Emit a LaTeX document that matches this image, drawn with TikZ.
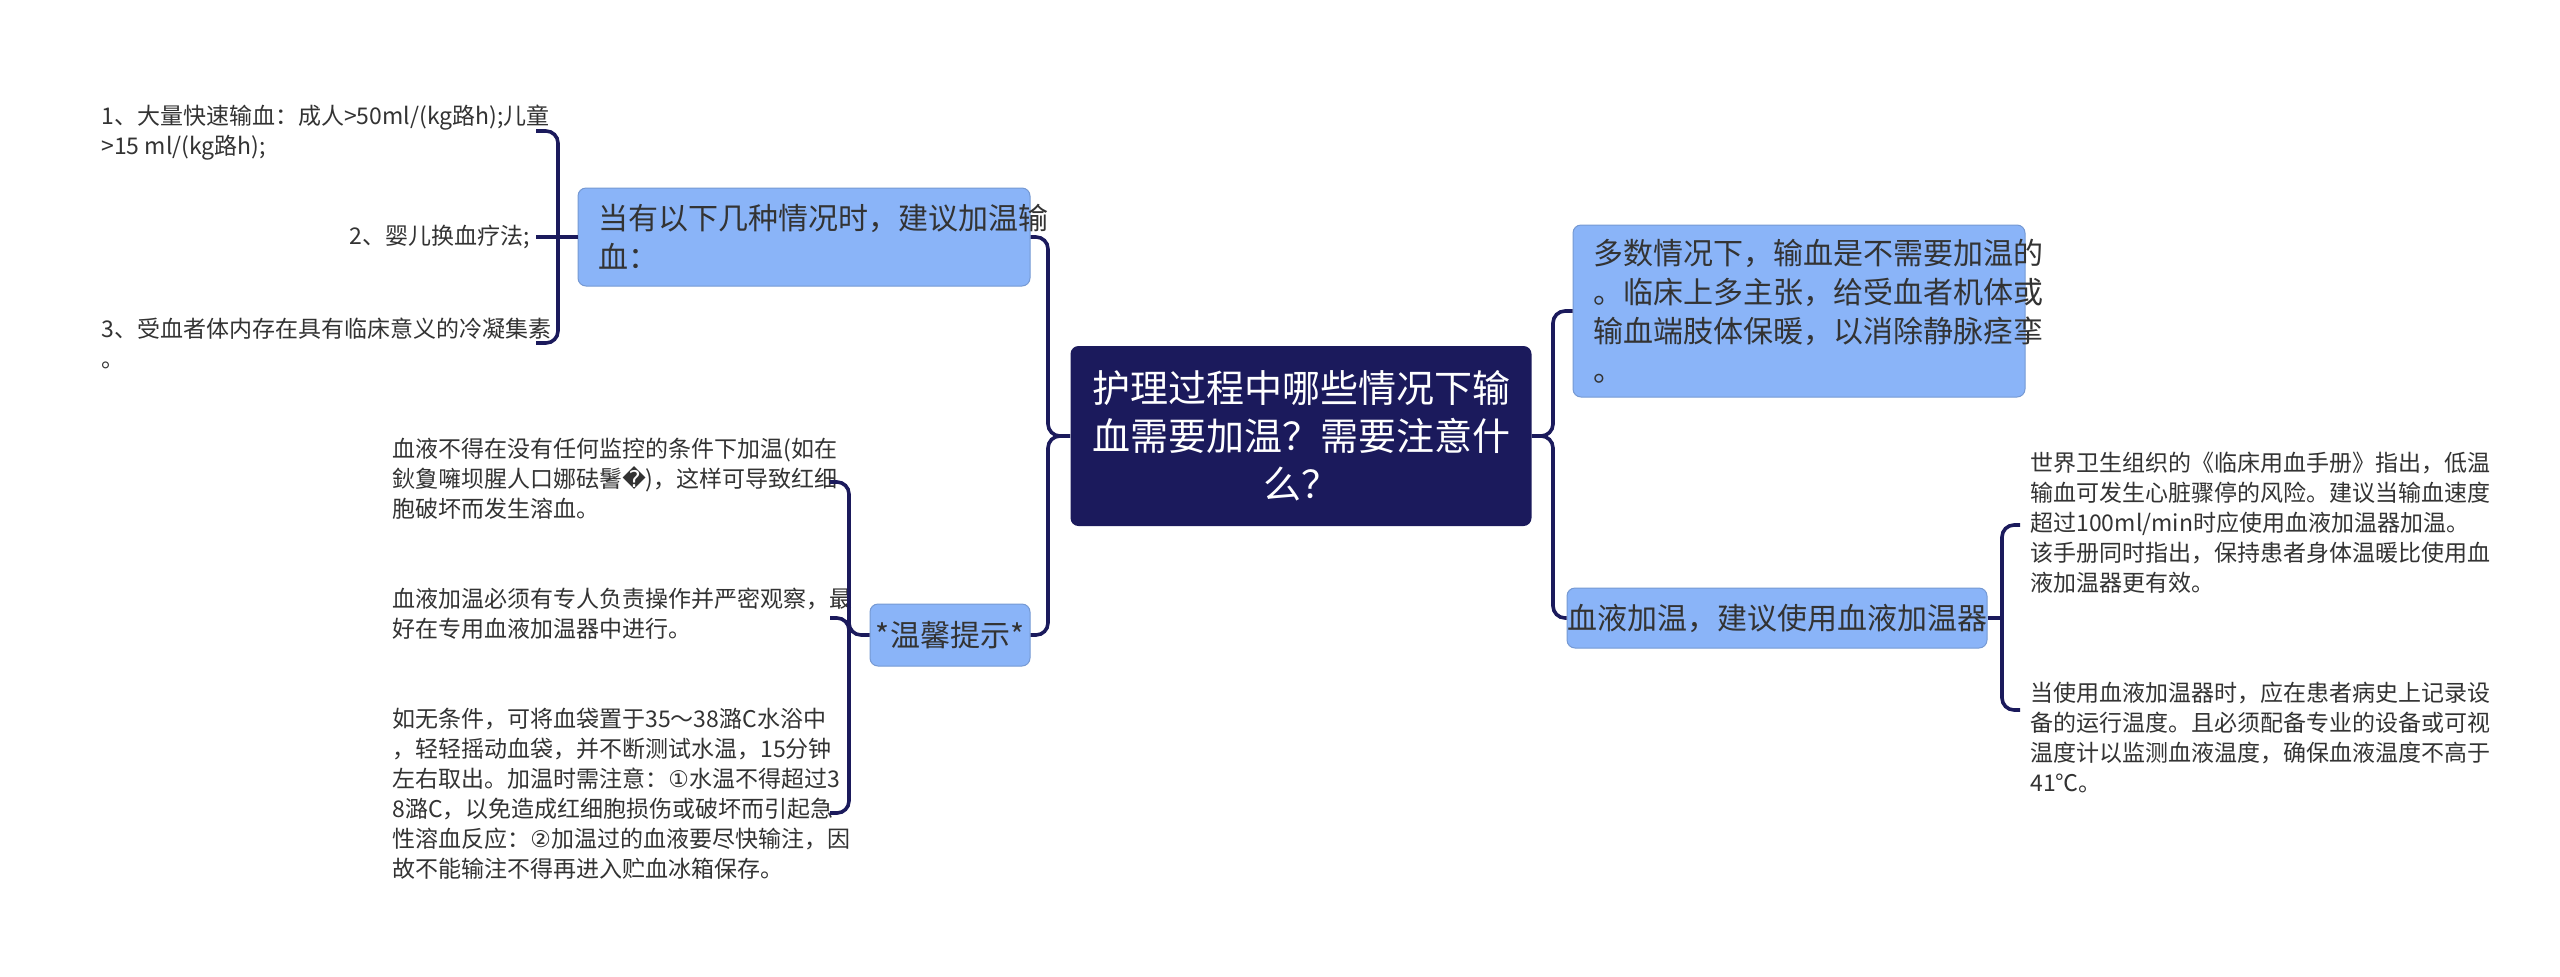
\documentclass[tikz,border=0pt]{standalone}
\usepackage{fontspec}
\setmainfont{Noto Sans CJK SC}
\newfontfamily\symfont{DejaVu Sans}
\definecolor{navy}{HTML}{1B1A5C}
\definecolor{lightblue}{HTML}{8AB4F8}
\definecolor{leafgray}{HTML}{333333}

\begin{document}
\begin{tikzpicture}[x=0.5pt,y=-0.5pt,
          topic/.style={rectangle, rounded corners=4pt, fill=navy, text=white,
            inner sep=0pt, font=\fontsize{19}{24}\selectfont, align=center},
          branch/.style={rectangle, rounded corners=4pt, draw=lightblue!85!black,
            fill=lightblue, text=leafgray, inner sep=0pt, line width=0.5pt,
            font=\fontsize{15}{19.5}\selectfont, align=left},
          leaf/.style={text=leafgray, inner sep=0pt, font=\fontsize{11.5}{15}\selectfont},
          link/.style={draw=navy, line width=1.8pt, rounded corners=6pt}]

        \fill[white] (0,0) rectangle (2560,976);

        % centre
        \node[topic, minimum width=230.5pt, minimum height=90pt] (root) at (1301,436)
          {护理过程中哪些情况下输\\血需要加温？需要注意什\\么？};

        % branches
        \node[branch, minimum width=226pt, minimum height=49pt, text width=206pt] (warm) at (804,237)
          {当有以下几种情况时，建议加温输\\血：};
        \node[branch, minimum width=80pt, minimum height=31pt, align=center] (tips) at (950,635)
          {*温馨提示*};
        \node[branch, minimum width=226pt, minimum height=86pt, text width=206pt] (most) at (1799,311)
          {多数情况下，输血是不需要加温的\\。临床上多主张，给受血者机体或\\输血端肢体保暖，以消除静脉痉挛\\。};
        \node[branch, minimum width=204.5pt, minimum height=30pt, align=center] (heater) at (1777,618)
          {血液加温，建议使用血液加温器};

        % leaves
        \node[leaf, anchor=north west, align=left] (w1) at (101,105)
          {1、大量快速输血：成人>50ml/(kg路h);儿童\\>15 ml/(kg路h);};
        \node[leaf, anchor=east] (w2) at (530,237) {2、婴儿换血疗法;};
        \node[leaf, anchor=north west, align=left] (w3) at (101,318)
          {3、受血者体内存在具有临床意义的冷凝集素\\。};

        \node[leaf, anchor=north west, align=left] (t1) at (392,438)
          {血液不得在没有任何监控的条件下加温(如在\\鈥夐噰坝腥人口娜砝鬐{\symfont �})，这样可导致红细\\胞破坏而发生溶血。};
        \node[leaf, anchor=north west, align=left] (t2) at (392,588)
          {血液加温必须有专人负责操作并严密观察，最\\好在专用血液加温器中进行。};
        \node[leaf, anchor=north west, align=left] (t3) at (392,708)
          {如无条件，可将血袋置于35～38潞C水浴中\\，轻轻摇动血袋，并不断测试水温，15分钟\\左右取出。加温时需注意：{\symfont ①}水温不得超过3\\8潞C，以免造成红细胞损伤或破坏而引起急\\性溶血反应：{\symfont ②}加温过的血液要尽快输注，因\\故不能输注不得再进入贮血冰箱保存。};

        \node[leaf, anchor=west, align=left] (h1) at (2030,523)
          {世界卫生组织的《临床用血手册》指出，低温\\输血可发生心脏骤停的风险。建议当输血速度\\超过100ml/min时应使用血液加温器加温。\\该手册同时指出，保持患者身体温暖比使用血\\液加温器更有效。};
        \node[leaf, anchor=west, align=left] (h2) at (2030,737)
          {当使用血液加温器时，应在患者病史上记录设\\备的运行温度。且必须配备专业的设备或可视\\温度计以监测血液温度，确保血液温度不高于\\41℃。};

        % connectors from the centre
        \draw[link] (root.west) -- (1048,436) |- (warm.east);
        \draw[link] (root.west) -- (1048,436) |- (tips.east);
        \draw[link] (root.east) -- (1553,436) |- (most.west);
        \draw[link] (root.east) -- (1553,436) |- (heater.west);

        % brackets
        \coordinate (wa) at (536,131);
        \coordinate (wb) at (536,343);
        \draw[link] (wa) -| (558,237) |- (wb);
        \draw[link] (warm.west) -- (536,237);

        \coordinate (ta) at (830,482);
        \coordinate (tb) at (830,813);
        \draw[link] (ta) -| (849,635) |- (tb);
        \draw[link] (tips.west) -- (849,635) |- (830,618);

        \coordinate (ha) at (2020,525);
        \coordinate (hb) at (2020,710);
        \draw[link] (ha) -| (2002,618) |- (hb);
        \draw[link] (heater.east) -- (2002,618);

      \end{tikzpicture}
\end{document}
